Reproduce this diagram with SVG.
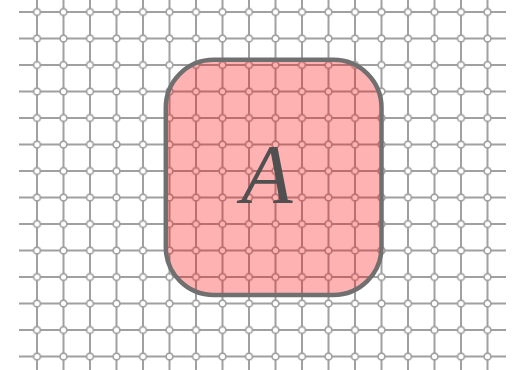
<svg xmlns="http://www.w3.org/2000/svg" width="519" height="370" viewBox="0 0 519 370">
<style>
.grid{stroke:#a0a0a0;stroke-width:2;fill:none}
.node{fill:#ff0000;fill-opacity:0.3;stroke:#707070;stroke-width:4.5}
.lbl{font-family:"Liberation Serif",serif;font-style:italic;font-size:84px;fill:#505050;text-anchor:middle}
</style>
<defs>
<pattern id="dots" patternUnits="userSpaceOnUse" x="23.75" y="-1.25" width="26.5" height="26.5">
<circle cx="13.25" cy="13.25" r="3.4" fill="#ffffff" stroke="#a0a0a0" stroke-width="1.7"/>
</pattern>
</defs>
<g id="grid">
<path class="grid" d="M19 12H506M19 38.5H506M19 65H506M19 91.5H506M19 118H506M19 144.5H506M19 171H506M19 197.5H506M19 224H506M19 250.5H506M19 277H506M19 303.5H506M19 330H506M19 356.5H506"/>
<path class="grid" d="M37 -6V376M63.5 -6V376M90 -6V376M116.5 -6V376M143 -6V376M169.5 -6V376M196 -6V376M222.5 -6V376M249 -6V376M275.5 -6V376M302 -6V376M328.5 -6V376M355 -6V376M381.5 -6V376M408 -6V376M434.5 -6V376M461 -6V376M487.5 -6V376"/>
<rect x="32" y="7" width="461" height="355" fill="url(#dots)"/>
</g>
<g id="connectors"></g>
<g id="nodeA">
<rect class="node" x="165.8" y="59.8" width="215.7" height="235.2" rx="48" ry="48"/>
<text class="lbl" x="267" y="202.5">A</text>
</g>
</svg>
